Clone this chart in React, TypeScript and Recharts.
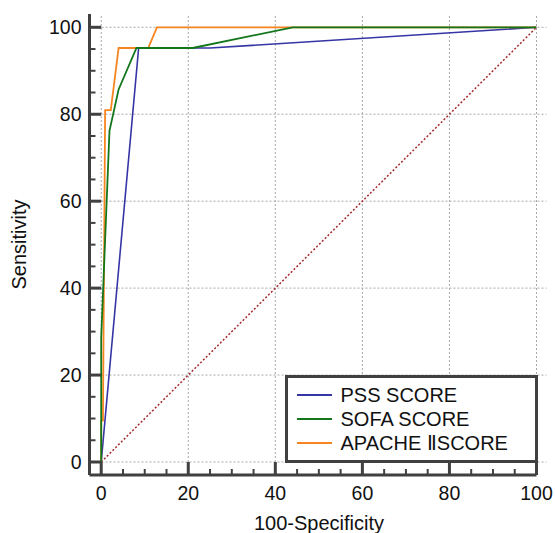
import React from 'react'
import { LineChart, Line, XAxis, YAxis, ReferenceLine, Legend } from 'recharts'

const FONT = '"Liberation Sans", Arial, sans-serif'

// axis ticks (every 5, labels on every 20)
const X_TICKS = [0, 5, 10, 15, 20, 25, 30, 35, 40, 45, 50, 55, 60, 65, 70, 75, 80, 85, 90, 95, 100]
const Y_TICKS = [0, 5, 10, 15, 20, 25, 30, 35, 40, 45, 50, 55, 60, 65, 70, 75, 80, 85, 90, 95, 100]
const GRID_VALUES = [0, 20, 40, 60, 80, 100]

const SERIES_NAMES = ['PSS SCORE', 'SOFA SCORE', 'APACHE ⅡSCORE']

// 100-Specificity / Sensitivity pairs
const PSS_FPR = [0, 8.6, 25, 100]
const PSS_SENS = [0, 95.24, 95.24, 100]

const SOFA_FPR = [0, 0, 1.9, 4, 8.1, 21, 44, 100]
const SOFA_SENS = [0, 28.57, 76.19, 85.71, 95.24, 95.24, 100, 100]

const APACHE_FPR = [0, 0, 0.4, 0.9, 2.2, 4, 10.8, 12.8, 100]
const APACHE_SENS = [0, 9.52, 9.52, 80.95, 80.95, 95.24, 95.24, 100, 100]

const DIAG_X = [0, 100]
const DIAG_Y = [0, 100]

const X_MIN = -2.69
const Y_MIN = -2.99
const Y_MAX = 103.06

const COLORS = {
  pss: '#3535a5',
  sofa: '#12761a',
  apache: '#f7851f',
  diagonal: '#a52a2a',
  axis: '#404040',
  grid: '#a8a8a8',
  text: '#111'
}

const SERIES_COLORS: Record<string, string> = {
  [SERIES_NAMES[0]]: COLORS.pss,
  [SERIES_NAMES[1]]: COLORS.sofa,
  [SERIES_NAMES[2]]: COLORS.apache
}

const toPoints = (xs: number[], ys: number[]) => xs.map((x, i) => ({ x, y: ys[i] }))

const pssData = toPoints(PSS_FPR, PSS_SENS)
const sofaData = toPoints(SOFA_FPR, SOFA_SENS)
const apacheData = toPoints(APACHE_FPR, APACHE_SENS)
const diagData = toPoints(DIAG_X, DIAG_Y)

const XTick = ({ x, y, payload }: any) => {
  const major = payload.value % 20 === 0
  return (
    <g>
      <line x1={x} x2={x} y1={y} y2={y - (major ? 13 : 6)} stroke={COLORS.axis} strokeWidth={major ? 3 : 2} />
      {major && (
        <text x={x} y={y + 25} textAnchor="middle" fontSize={19.5} fill={COLORS.text} fontFamily={FONT}>
          {payload.value}
        </text>
      )}
    </g>
  )
}

const YTick = ({ x, y, payload }: any) => {
  const major = payload.value % 20 === 0
  return (
    <g>
      <line x1={x} x2={x + (major ? 11.7 : 6)} y1={y} y2={y} stroke={COLORS.axis} strokeWidth={major ? 3 : 2} />
      {major && (
        <text x={x - 8} y={y + 7} textAnchor="end" fontSize={19.5} fill={COLORS.text} fontFamily={FONT}>
          {payload.value}
        </text>
      )}
    </g>
  )
}

const XLabel = (props: any) => {
  const { x, y } = props.viewBox
  return (
    <text x={x + 229.5} y={y + 55} textAnchor="middle" fontSize={20} fill={COLORS.text} fontFamily={FONT}>
      100-Specificity
    </text>
  )
}

const YLabel = (props: any) => {
  const { x, y, width, height } = props.viewBox
  const cx = x + width - 63.5
  const cy = y + height / 2
  return (
    <text x={cx} y={cy} transform={`rotate(-90 ${cx} ${cy})`} textAnchor="middle" fontSize={20} fill={COLORS.text} fontFamily={FONT}>
      Sensitivity
    </text>
  )
}

const renderLegend = ({ payload }: any) => {
  const items = (payload || [])
    .filter((p: any) => SERIES_NAMES.includes(p.value))
    .sort((a: any, b: any) => SERIES_NAMES.indexOf(a.value) - SERIES_NAMES.indexOf(b.value))
  return (
    <div
      style={{
        boxSizing: 'border-box',
        width: 253,
        height: 88,
        border: `3px solid ${COLORS.axis}`,
        background: '#fff',
        paddingTop: 5.5,
        fontFamily: FONT
      }}
    >
      {items.map((item: any) => (
        <div key={item.value} style={{ display: 'flex', alignItems: 'center', height: 24 }}>
          <span
            style={{
              display: 'inline-block',
              width: 35,
              height: 2,
              background: SERIES_COLORS[item.value],
              marginLeft: 9,
              marginRight: 9
            }}
          />
          <span style={{ fontSize: 20, lineHeight: '24px', color: COLORS.text, whiteSpace: 'nowrap' }}>{item.value}</span>
        </div>
      ))}
    </div>
  )
}

export default function App() {
  return (
    <div style={{ position: 'absolute', left: 0, top: 0, background: '#fff' }}>
      <LineChart
        width={555}
        height={533}
        margin={{ top: 14, right: 18.5, bottom: 0, left: 29.5 }}
        style={{ fontFamily: FONT }}
      >
        {GRID_VALUES.map(v => (
          <ReferenceLine
            key={`h-${v}`}
            segment={[{ x: X_MIN, y: v }, { x: 102.3, y: v }]}
            stroke={COLORS.grid}
            strokeDasharray="2 2"
            ifOverflow="visible"
          />
        ))}
        {GRID_VALUES.map(v => (
          <ReferenceLine
            key={`v-${v}`}
            segment={[{ x: v, y: 0 }, { x: v, y: Y_MAX }]}
            stroke={COLORS.grid}
            strokeDasharray="2 2"
            ifOverflow="visible"
          />
        ))}
        <Line
          data={diagData}
          dataKey="y"
          type="linear"
          stroke={COLORS.diagonal}
          strokeWidth={1.5}
          strokeDasharray="2 2"
          dot={false}
          activeDot={false}
          legendType="none"
          isAnimationActive={false}
        />
        <Line
          data={pssData}
          dataKey="y"
          name={SERIES_NAMES[0]}
          type="linear"
          stroke={COLORS.pss}
          strokeWidth={1.6}
          dot={false}
          activeDot={false}
          isAnimationActive={false}
        />
        <Line
          data={apacheData}
          dataKey="y"
          name={SERIES_NAMES[2]}
          type="linear"
          stroke={COLORS.apache}
          strokeWidth={1.8}
          dot={false}
          activeDot={false}
          isAnimationActive={false}
        />
        <Line
          data={sofaData}
          dataKey="y"
          name={SERIES_NAMES[1]}
          type="linear"
          stroke={COLORS.sofa}
          strokeWidth={1.8}
          dot={false}
          activeDot={false}
          isAnimationActive={false}
        />
        <XAxis
          type="number"
          dataKey="x"
          domain={[X_MIN, 100]}
          allowDataOverflow
          ticks={X_TICKS}
          interval={0}
          tickSize={0}
          tickMargin={0}
          tickLine={false}
          tick={<XTick />}
          axisLine={{ stroke: COLORS.axis, strokeWidth: 3 }}
          height={58}
          label={{ content: XLabel }}
        />
        <YAxis
          type="number"
          domain={[Y_MIN, Y_MAX]}
          allowDataOverflow
          ticks={Y_TICKS}
          interval={0}
          tickSize={0}
          tickMargin={0}
          tickLine={false}
          tick={<YTick />}
          axisLine={{ stroke: COLORS.axis, strokeWidth: 3 }}
          width={60}
          label={{ content: YLabel }}
        />
        <Legend
          verticalAlign="middle"
          align="center"
          layout="horizontal"
          content={renderLegend}
          wrapperStyle={{ position: 'absolute', left: 284.5, top: 374.5, width: 253, height: 88 }}
        />
      </LineChart>
    </div>
  )
}
